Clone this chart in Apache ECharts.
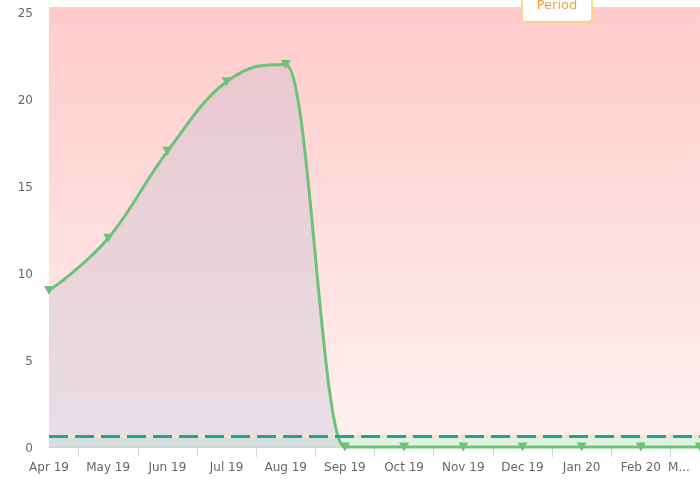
<!DOCTYPE html>
<html>
<head>
<meta charset="utf-8">
<script src="https://cdn.jsdelivr.net/npm/echarts@6/dist/echarts.min.js"></script>
<style>html,body{margin:0;padding:0;background:#fff;}#c{width:700px;height:480px;}</style>
</head>
<body>
<div id="c"></div>
<script>
const months = ['Apr 19','May 19','Jun 19','Jul 19','Aug 19','Sep 19','Oct 19','Nov 19','Dec 19','Jan 20','Feb 20','Mar 20'];
const values = [9, 12, 17, 21, 22, 0, 0, 0, 0, 0, 0, 0];
const yMin = 0;
const yMax = 25.3;
const yStep = 5;
const thresholdValue = 0.6;
const periodLabel = 'Period';
// helper slots for tick marks placed between month labels
const tickSlots = [];
months.forEach(function (m, i) { tickSlots.push(m); if (i < months.length - 1) tickSlots.push(m + ' |'); });

const FONT = 'DejaVu Sans';
const LINE_COLOR = '#6cc377';

// spline control points (smoothing 1.5) computed on pixel coordinates from the axes
function controls(pts, i) {
  const p = pts[i];
  if (i === 0 || i === pts.length - 1) return {lx: p[0], ly: p[1], rx: p[0], ry: p[1]};
  const a = pts[i - 1], b = pts[i + 1];
  const s = 1.5, den = s + 1;
  const lx = (s * p[0] + a[0]) / den, rx = (s * p[0] + b[0]) / den;
  let ly = (s * p[1] + a[1]) / den, ry = (s * p[1] + b[1]) / den;
  if (rx !== lx) {
    const corr = ((ry - ly) * (rx - p[0])) / (rx - lx) + p[1] - ry;
    ly += corr; ry += corr;
  }
  if (ly > a[1] && ly > p[1]) { ly = Math.max(a[1], p[1]); ry = 2 * p[1] - ly; }
  else if (ly < a[1] && ly < p[1]) { ly = Math.min(a[1], p[1]); ry = 2 * p[1] - ly; }
  if (ry > b[1] && ry > p[1]) { ry = Math.max(b[1], p[1]); ly = 2 * p[1] - ry; }
  else if (ry < b[1] && ry < p[1]) { ry = Math.min(b[1], p[1]); ly = 2 * p[1] - ry; }
  return {lx: lx, ly: ly, rx: rx, ry: ry};
}

const chart = echarts.init(document.getElementById('c'), null, {renderer: 'canvas'});
chart.setOption({
  animation: false,
  grid: {left: 49, right: -9, top: 7, bottom: 33},
  xAxis: [{
    type: 'category', data: months, boundaryGap: false,
    axisLine: {lineStyle: {color: '#ccd6eb', width: 1}},
    axisTick: {show: false},
    splitLine: {show: false},
    axisLabel: {
      color: '#666', fontFamily: FONT, fontSize: 12, margin: 15, interval: 0,
      formatter: function (v, i) { return i === months.length - 1 ? '{cut|' + v.charAt(0) + '...}' : v; },
      rich: {cut: {color: '#666', fontFamily: FONT, fontSize: 12, padding: [0, 42, 0, 0]}}
    }
  }, {
    type: 'category', data: tickSlots, boundaryGap: false, position: 'bottom',
    axisLine: {show: false}, axisLabel: {show: false}, splitLine: {show: false},
    axisTick: {show: true, length: 10, lineStyle: {color: '#ccd6eb'}, interval: function (i) { return i % 2 === 1; }}
  }],
  yAxis: {
    type: 'value', min: yMin, max: yMax, interval: yStep,
    axisLine: {show: false}, axisTick: {show: false},
    axisLabel: {color: '#666', fontFamily: FONT, fontSize: 12, margin: 16, showMaxLabel: false,
      formatter: function (v) { return '{v|' + v + '}'; },
      rich: {v: {color: '#666', fontFamily: FONT, fontSize: 12, padding: [4, 0, 0, 0]}}},
    splitLine: {lineStyle: {color: 'rgba(170,110,110,0.16)', width: 1}}
  },
  series: [{
    type: 'line', data: [], z: 1, silent: true,
    markArea: {
      silent: true,
      data: [
        [{yAxis: yMin, itemStyle: {color: '#e0f2e4'}}, {yAxis: thresholdValue}],
        [{yAxis: thresholdValue,
          itemStyle: {color: {type: 'linear', x: 0, y: 0, x2: 0, y2: 1, colorStops: [
            {offset: 0, color: '#ffcbcb'}, {offset: 1, color: '#fff0f0'}]}},
          label: {show: true, formatter: periodLabel, position: [508, -12], align: 'center', verticalAlign: 'top',
            color: '#f0a040', fontFamily: FONT, fontSize: 13, backgroundColor: '#fff',
            borderColor: '#f8d462', borderWidth: 1.5, borderRadius: 3, padding: [4, 14, 9, 14]}},
         {yAxis: yMax}]
      ]
    }
  }, {
    type: 'line', data: [], z: 2, silent: true,
    markLine: {
      silent: true, symbol: 'none', label: {show: false},
      data: [
        {yAxis: thresholdValue, lineStyle: {color: '#f5e6b4', type: 'solid', width: 3}},
        {yAxis: thresholdValue, lineStyle: {color: '#22a492', type: [19, 7], width: 3}}
      ]
    }
  }, {
    type: 'custom', z: 3, silent: true,
    data: values.map(function (v, i) { return [i, v]; }),
    encode: {x: 0, y: 1},
    renderItem: function (params, api) {
      if (params.dataIndex !== 0) return null;
      const pts = values.map(function (v, i) { return api.coord([i, v]); });
      const base = api.coord([0, yMin])[1];
      const c = pts.map(function (p, i) { return controls(pts, i); });
      let d = 'M' + pts[0][0] + ' ' + pts[0][1];
      for (let i = 1; i < pts.length; i++) {
        d += ' C' + c[i - 1].rx + ' ' + c[i - 1].ry + ' ' + c[i].lx + ' ' + c[i].ly + ' ' + pts[i][0] + ' ' + pts[i][1];
      }
      const area = d + ' L' + pts[pts.length - 1][0] + ' ' + base + ' L' + pts[0][0] + ' ' + base + ' Z';
      return {type: 'group', children: [
        {type: 'path', shape: {pathData: area}, style: {fill: 'rgba(190,185,210,0.33)', stroke: 'none'}},
        {type: 'path', shape: {pathData: d}, style: {fill: 'none', stroke: LINE_COLOR, lineWidth: 3, lineJoin: 'round', lineCap: 'round'}}
      ]};
    }
  }, {
    type: 'scatter', data: values, z: 4, silent: true,
    symbol: 'triangle', symbolRotate: 180, symbolSize: [10, 9],
    itemStyle: {color: LINE_COLOR, opacity: 1}
  }]
});
</script>
</body>
</html>
